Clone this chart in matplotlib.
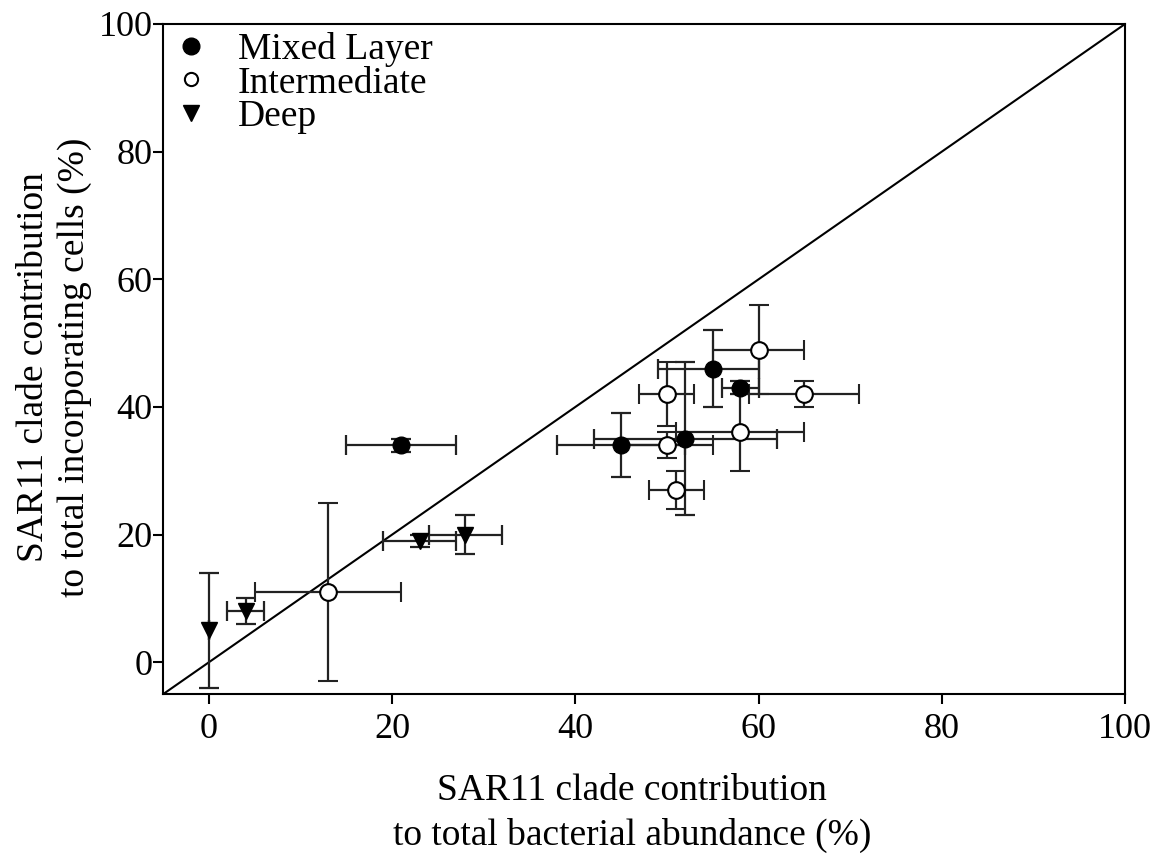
import matplotlib
matplotlib.use("Agg")
import matplotlib.pyplot as plt
from matplotlib.lines import Line2D

plt.rcParams['font.family'] = ['Liberation Serif', 'DejaVu Serif']

# Mixed Layer
mixed_x = [21, 45, 52, 55, 58]
mixed_y = [34, 34, 35, 46, 43]
mixed_xerr_lo = [6, 7, 10, 6, 2]
mixed_xerr_hi = [6, 7, 10, 5, 2]
mixed_yerr = [1, 5, 12, 6, 1]

# Intermediate
inter_x = [13, 50, 50, 51, 58, 60, 65]
inter_y = [11, 42, 34, 27, 36, 49, 42]
inter_xerr = [8, 3, 5, 3, 7, 5, 6]
inter_yerr = [14, 5, 2, 3, 6, 7, 2]

# Deep
deep_x = [0, 4, 23, 28]
deep_y = [5, 8, 19, 20]
deep_xerr = [0, 2, 4, 4]
deep_yerr = [9, 2, 1, 3]

ticks = [0, 20, 40, 60, 80, 100]
legend_labels = ['Mixed Layer', 'Intermediate', 'Deep']

fig = plt.figure(figsize=(11.65, 8.57), dpi=100)
ax = fig.add_axes([0.140, 0.190, 0.8257, 0.782])

ax.plot([-5, 100], [-5, 100], color='black', lw=1.5, zorder=1)

ekw = dict(ecolor='#222222', elinewidth=1.6, capsize=7.5, capthick=1.6, linestyle='none', zorder=2)
ax.errorbar(inter_x, inter_y, xerr=inter_xerr, yerr=inter_yerr, marker='o',
            ms=12, mfc='white', mec='black', mew=1.5, **ekw)
ax.errorbar(mixed_x, mixed_y, xerr=[mixed_xerr_lo, mixed_xerr_hi], yerr=mixed_yerr, marker='o',
            ms=12, mfc='black', mec='black', **ekw)
ax.errorbar(deep_x, deep_y, xerr=deep_xerr, yerr=deep_yerr, marker='v',
            ms=12, mfc='black', mec='black', **ekw)

ax.set_xlim(-5, 100)
ax.set_ylim(-5, 100)
ax.set_xticks(ticks)
ax.set_yticks(ticks)
ax.tick_params(axis='both', direction='out', length=7.2, width=1.5, labelsize=26, top=False, right=False)
ax.tick_params(axis='y', pad=0.5)
ax.tick_params(axis='x', pad=6)
for s in ax.spines.values():
    s.set_linewidth(1.5)

ax.set_xlabel('SAR11 clade contribution\nto total bacterial abundance (%)', fontsize=27, linespacing=1.38)
ax.set_ylabel('SAR11 clade contribution\nto total incorporating cells (%)', fontsize=27, linespacing=1.23)
ax.xaxis.set_label_coords(0.4875, -0.118)
ax.yaxis.set_label_coords(-0.0738, 0.488)

handles = [
    Line2D([], [], marker='o', ls='none', ms=12, mfc='black', mec='black'),
    Line2D([], [], marker='o', ls='none', ms=9.5, mfc='white', mec='black', mew=1.5),
    Line2D([], [], marker='v', ls='none', ms=12, mfc='black', mec='black'),
]
ax.legend(handles, legend_labels, loc='upper left', frameon=False,
          fontsize=27, handlelength=1.04, handletextpad=0.73, labelspacing=-0.03,
          borderaxespad=0.0, borderpad=0.22)

fig.savefig('out.png', dpi=100)
